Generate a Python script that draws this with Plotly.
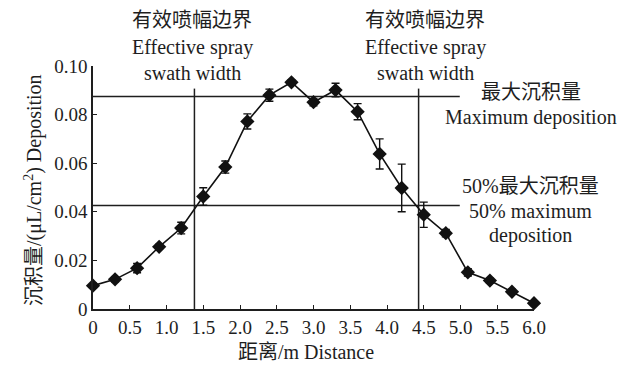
import plotly.graph_objects as go

# ---- data ----
distance = [0.0, 0.3, 0.6, 0.9, 1.2, 1.5, 1.8, 2.1, 2.4, 2.7, 3.0,
            3.3, 3.6, 3.9, 4.2, 4.5, 4.8, 5.1, 5.4, 5.7, 6.0]
deposition = [0.0096, 0.0122, 0.0168, 0.0256, 0.0333, 0.0463, 0.0584, 0.0772,
              0.0880, 0.0933, 0.0851, 0.0901, 0.0812, 0.0638, 0.0498, 0.0388,
              0.0312, 0.0151, 0.0117, 0.0071, 0.0024]
deposition_err = [0.0010, 0.0010, 0.0019, 0.0010, 0.0024, 0.0036, 0.0025, 0.0031,
                  0.0025, 0.0010, 0.0015, 0.0028, 0.0033, 0.0062, 0.0098, 0.0052,
                  0.0015, 0.0015, 0.0010, 0.0010, 0.0010]
swath_bounds = [1.38, 4.43]
swath_line_top = 0.0907
max_deposition = 0.0875
half_max_deposition = 0.0426
ref_line_x_end = 4.99

x_tickvals = [0, 0.5, 1.0, 1.5, 2.0, 2.5, 3.0, 3.5, 4.0, 4.5, 5.0, 5.5, 6.0]
x_ticktext = ["0", "0.5", "1.0", "1.5", "2.0", "2.5", "3.0", "3.5", "4.0", "4.5", "5.0", "5.5", "6.0"]
y_tickvals = [0, 0.02, 0.04, 0.06, 0.08, 0.10]
y_ticktext = ["0", "0.02", "0.04", "0.06", "0.08", "0.10"]

x_title = "距离/m Distance"
y_title = "沉积量/(μL/cm<sup>2</sup>) Deposition"
swath_label = ["有效喷幅边界", "Effective spray", "swath width"]
max_label = ["最大沉积量", "Maximum deposition"]
half_label = ["50%最大沉积量", "50% maximum", "deposition"]

# ---- styling ----
W, H = 630, 365
L, R, T, B = 93, 96, 66, 56
INK = "#1e1e1e"
FONT = "Liberation Serif, Times New Roman, Noto Sans CJK SC, serif"
FS = 20


def px(X):
    return (X - L) / (W - L - R)


def py(Y):
    return (H - B - Y) / (H - T - B)


fig = go.Figure()

# reference lines
for xb in swath_bounds:
    fig.add_trace(go.Scatter(x=[xb, xb], y=[0, swath_line_top], mode="lines",
                             line=dict(color=INK, width=1.5), hoverinfo="skip",
                             showlegend=False, cliponaxis=False))
for yv in [max_deposition, half_max_deposition]:
    fig.add_trace(go.Scatter(x=[0, ref_line_x_end], y=[yv, yv], mode="lines",
                             line=dict(color=INK, width=1.5), hoverinfo="skip",
                             showlegend=False, cliponaxis=False))

# data
fig.add_trace(go.Scatter(
    x=distance, y=deposition, mode="lines+markers",
    line=dict(color="#111111", width=1.6),
    marker=dict(symbol="diamond", size=11, color="#111111"),
    error_y=dict(type="data", array=deposition_err, visible=True,
                 color="#111111", thickness=1.4, width=4),
    showlegend=False, cliponaxis=False))

annotations = []
# swath labels
line_y = [20, 47, 73]
for cx in [192, 425]:
    for txt, yy in zip(swath_label, line_y):
        annotations.append(dict(text=txt, x=px(cx), y=py(yy), xref="paper", yref="paper",
                                showarrow=False, xanchor="center", yanchor="middle",
                                font=dict(family=FONT, size=FS, color=INK)))
for txt, yy in zip(max_label, [92, 117]):
    annotations.append(dict(text=txt, x=px(531), y=py(yy), xref="paper", yref="paper",
                            showarrow=False, xanchor="center", yanchor="middle",
                            font=dict(family=FONT, size=FS, color=INK)))
for txt, yy in zip(half_label, [186, 211, 236]):
    annotations.append(dict(text=txt, x=px(530), y=py(yy), xref="paper", yref="paper",
                            showarrow=False, xanchor="center", yanchor="middle",
                            font=dict(family=FONT, size=FS, color=INK)))
# axis titles
annotations.append(dict(text=x_title, x=px(306), y=py(352), xref="paper", yref="paper",
                        showarrow=False, xanchor="center", yanchor="middle",
                        font=dict(family=FONT, size=FS, color=INK)))
annotations.append(dict(text=y_title, x=px(33), y=py(190), xref="paper", yref="paper",
                        showarrow=False, xanchor="center", yanchor="middle", textangle=-90,
                        font=dict(family=FONT, size=FS, color=INK)))

fig.update_layout(
    width=W, height=H, autosize=False,
    margin=dict(l=L, r=R, t=T, b=B, pad=0),
    paper_bgcolor="white", plot_bgcolor="white",
    font=dict(family=FONT, size=19, color=INK),
    annotations=annotations,
    xaxis=dict(range=[0, 6.0], tickvals=x_tickvals, ticktext=x_ticktext,
               showgrid=False, zeroline=False, showline=True, linecolor=INK, linewidth=1.5,
               ticks="inside", ticklen=4, tickwidth=1.2, tickcolor=INK,
               tickfont=dict(family=FONT, size=19, color=INK)),
    yaxis=dict(range=[0, 0.10], tickvals=y_tickvals, ticktext=y_ticktext,
               showgrid=False, zeroline=False, showline=True, linecolor=INK, linewidth=1.5,
               ticks="inside", ticklen=4, tickwidth=1.2, tickcolor=INK,
               tickfont=dict(family=FONT, size=19, color=INK)),
)

fig.write_html("out.html", config={"displayModeBar": False},
               post_script="document.body.style.margin='0';document.body.style.padding='0';")
